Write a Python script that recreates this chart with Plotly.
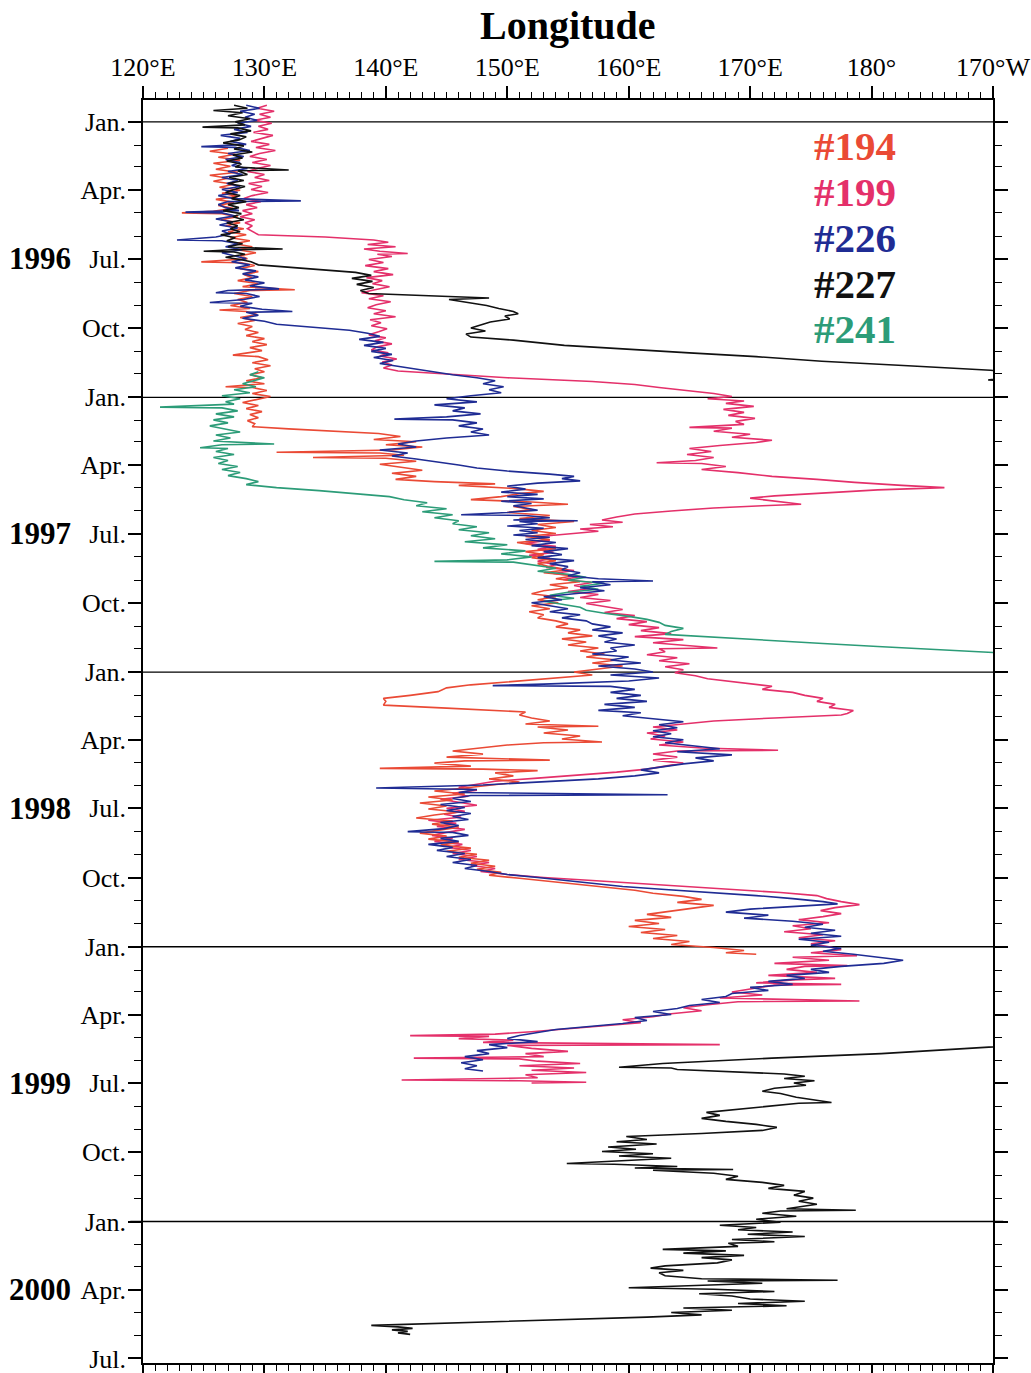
import plotly.graph_objects as go
import pandas as pd

# ---------------- data (day offset from 1996-01-01, longitude in degrees east; >180 = west of dateline) ----
track_194 = [(35,127.0),(39,125.5),(43,127.6),(47,126.2),(51,128.0),(55,125.8),(59,127.2),(63,126.0),(67,127.8),(71,125.5),(75,127.0),(79,125.8),(83,127.5),(87,126.3),(91,128.0),(95,126.5),(99,127.8),(103,126.0),(107,127.5),(111,126.2),(115,127.4),(119,125.8),(121,123.2),(122,126.5),(126,127.8),(130,126.4),(134,128.0),(138,126.8),(142,128.3),(146,127.0),(150,128.5),(154,127.2),(158,128.8),(162,127.5),(166,129.0),(170,127.8),(174,129.3),(178,128.0),(182,128.6),(186,124.8),(187,128.0),(191,129.2),(195,128.0),(199,129.5),(203,128.3),(207,129.0),(211,127.8),(215,129.5),(219,128.2),(223,132.5),(224,128.8),(228,127.5),(232,129.0),(236,127.8),(240,128.6),(244,127.2),(248,128.8),(250,126.3),(252,128.5),(256,129.4),(260,128.0),(264,129.2),(268,127.8),(272,129.0),(276,128.4),(280,129.5),(284,128.5),(288,130.0),(292,129.0),(296,130.2),(300,128.8),(304,129.8),(308,128.2),(310,127.4),(312,129.5),(316,130.3),(320,129.0),(324,130.5),(328,129.2),(332,130.0),(336,128.8),(340,129.8),(344,128.5),(348,130.0),(352,126.8),(353,129.0),(357,130.2),(361,129.0),(365,130.5),(369,129.2),(373,128.2),(377,129.5),(381,128.5),(385,129.8),(389,128.8),(393,129.5),(397,128.6),(401,129.2),(405,129.0),(408,132.0),(411,136.0),(414,139.4),(418,141.2),(422,139.0),(425,142.5),(429,140.0),(432,143.0),(436,140.5),(439,131.0),(440,139.5),(443,141.5),(446,134.0),(447,140.0),(451,142.5),(455,139.5),(459,141.5),(463,143.0),(467,140.5),(471,142.5),(475,140.8),(478,144.0),(481,149.0),(483,146.0),(487,150.5),(491,153.0),(494,151.0),(498,149.5),(502,147.0),(505,152.0),(508,155.0),(511,150.5),(515,152.0),(519,150.0),(523,153.5),(527,151.0),(531,155.5),(535,152.5),(539,154.0),(543,152.0),(547,154.0),(551,151.5),(555,153.5),(559,150.8),(563,152.5),(567,154.0),(571,151.5),(575,153.0),(579,152.0),(583,154.0),(587,152.5),(591,153.5),(595,155.0),(599,153.0),(603,155.5),(607,154.0),(611,156.0),(615,153.5),(619,155.0),(623,153.0),(627,152.0),(631,154.0),(635,152.5),(639,154.2),(643,152.0),(647,153.5),(651,151.8),(655,153.0),(659,152.5),(663,154.0),(667,155.0),(671,154.0),(675,156.0),(679,155.0),(683,157.0),(687,154.5),(691,156.5),(695,155.0),(699,157.5),(703,156.0),(707,158.0),(711,156.5),(715,159.0),(719,157.0),(723,159.5),(727,157.5),(731,155.5),(735,157.0),(739,154.0),(744,150.0),(748,147.0),(752,145.0),(757,144.3),(762,142.0),(766,139.8),(770,140.0),(775,139.8),(779,145.0),(784,151.5),(788,151.0),(792,152.0),(796,153.5),(800,151.5),(803,157.5),(804,152.5),(808,155.0),(812,153.0),(816,156.0),(820,154.5),(824,157.8),(825,153.0),(828,150.0),(832,147.5),(836,145.5),(840,148.0),(844,145.0),(848,153.5),(849,146.5),(852,144.0),(856,147.0),(859,139.5),(860,148.0),(862,152.5),(865,149.0),(869,150.5),(873,148.5),(877,151.0),(881,149.0),(885,146.5),(889,144.0),(893,146.5),(897,143.5),(901,145.5),(905,142.8),(909,145.0),(913,143.5),(917,146.0),(921,144.0),(925,142.5),(929,145.5),(933,143.8),(937,146.0),(941,144.5),(945,142.8),(949,145.0),(953,143.5),(957,146.0),(961,144.5),(965,147.0),(969,145.0),(973,147.5),(977,146.0),(981,148.5),(985,147.0),(989,149.0),(993,147.5),(997,149.5),(1001,148.5),(1005,151.0),(1009,153.5),(1013,155.5),(1017,158.0),(1021,160.5),(1025,162.0),(1029,164.5),(1033,166.0),(1037,164.0),(1041,167.0),(1045,165.0),(1049,163.0),(1053,161.5),(1057,163.5),(1061,160.5),(1065,162.5),(1069,160.0),(1073,163.0),(1077,161.0),(1081,164.0),(1085,162.0),(1089,165.0),(1093,163.5),(1097,167.0),(1101,169.5),(1104,168.0),(1106,170.5)]

track_199 = [(-22,130.2),(-18,129.4),(-14,130.8),(-10,129.6),(-6,130.5),(-2,129.2),(2,130.6),(6,129.5),(10,130.3),(14,129.1),(18,130.7),(22,129.8),(26,128.9),(30,130.4),(34,129.3),(38,130.9),(42,129.6),(46,128.8),(50,130.2),(54,129.0),(58,130.5),(62,129.4),(66,128.6),(70,130.0),(74,129.2),(78,130.4),(82,128.7),(86,129.8),(90,128.9),(94,130.3),(98,129.0),(102,128.3),(106,129.7),(110,128.5),(114,129.4),(118,128.2),(122,129.0),(126,128.0),(130,129.2),(134,128.4),(138,129.0),(142,128.6),(146,129.0),(150,129.5),(153,135.0),(157,139.0),(160,140.2),(163,138.5),(166,140.8),(169,138.2),(172,139.5),(175,141.8),(176,139.3),(179,140.5),(183,138.6),(187,139.8),(191,138.3),(195,140.2),(199,139.0),(203,140.6),(207,138.4),(211,139.7),(215,138.9),(219,140.3),(223,139.1),(227,138.0),(231,139.8),(235,138.6),(239,140.4),(243,139.2),(247,138.5),(251,140.0),(255,139.0),(259,140.8),(263,138.7),(267,139.6),(271,138.8),(275,140.1),(279,139.4),(283,138.6),(287,140.0),(291,139.1),(295,140.5),(299,139.3),(303,138.8),(307,140.2),(311,139.5),(315,140.9),(319,139.7),(323,140.5),(327,139.8),(331,141.0),(336,146.0),(340,150.0),(345,157.0),(349,160.5),(353,162.5),(357,164.8),(361,167.0),(365,168.5),(368,166.5),(371,169.5),(374,168.0),(378,170.3),(382,167.8),(386,169.5),(390,168.2),(394,170.4),(398,168.8),(402,169.5),(406,165.0),(407,168.5),(411,167.0),(415,170.0),(419,168.5),(423,171.8),(426,170.5),(430,167.5),(434,165.0),(438,166.8),(442,164.8),(446,167.0),(450,165.5),(453,162.3),(454,166.0),(458,168.0),(462,166.0),(466,169.0),(471,171.8),(475,175.5),(479,178.6),(483,182.5),(486,186.0),(489,180.5),(493,176.5),(497,172.0),(500,170.0),(504,172.0),(508,174.2),(510,171.0),(513,167.0),(517,163.5),(521,160.5),(525,159.0),(529,157.8),(532,159.5),(535,156.8),(538,158.7),(541,156.0),(544,157.5),(548,154.5),(552,152.0),(556,153.5),(560,151.5),(564,154.0),(568,152.5),(572,153.8),(576,151.8),(580,153.5),(584,152.5),(588,154.0),(592,153.2),(596,155.5),(600,153.8),(604,156.0),(608,154.6),(612,157.0),(616,155.5),(620,156.8),(624,155.0),(628,157.5),(632,156.0),(636,158.5),(640,156.5),(644,158.0),(648,159.5),(652,158.0),(656,160.5),(660,159.0),(664,161.5),(668,160.0),(672,162.5),(676,161.0),(680,163.5),(684,160.5),(688,164.5),(692,162.0),(696,165.5),(699,167.3),(700,162.5),(704,163.0),(708,161.5),(712,164.0),(716,162.5),(720,165.0),(724,163.0),(728,164.5),(732,163.8),(736,165.5),(740,166.5),(746,169.5),(750,171.8),(754,171.0),(758,173.5),(762,174.5),(766,176.0),(770,175.5),(774,177.0),(778,176.5),(782,178.5),(786,178.0),(788,177.5),(792,172.0),(796,167.0),(800,164.5),(804,162.0),(808,164.0),(812,161.5),(816,163.0),(820,161.8),(824,164.5),(828,162.5),(832,166.0),(835,172.3),(836,164.0),(840,162.0),(844,164.0),(848,162.0),(852,164.5),(856,163.0),(860,161.5),(864,159.0),(868,156.0),(872,152.5),(876,149.0),(880,147.5),(884,146.0),(888,147.5),(892,145.5),(896,146.8),(900,144.5),(904,146.0),(908,147.5),(912,145.0),(916,146.5),(920,144.8),(924,146.2),(928,143.5),(932,145.8),(936,144.2),(940,146.5),(944,145.0),(948,143.8),(952,145.5),(956,144.0),(960,146.3),(964,145.2),(968,147.0),(972,145.5),(976,147.5),(980,146.0),(984,148.5),(988,147.0),(992,149.0),(996,147.8),(1000,150.0),(1004,153.0),(1008,157.0),(1012,161.0),(1016,165.0),(1020,169.0),(1024,172.5),(1028,175.5),(1032,176.3),(1036,177.5),(1040,179.0),(1044,177.0),(1048,175.8),(1052,177.5),(1056,176.0),(1060,174.0),(1064,176.5),(1068,173.5),(1072,175.0),(1076,172.8),(1080,176.0),(1084,174.0),(1088,177.0),(1092,175.0),(1096,176.5),(1100,177.5),(1104,175.0),(1108,178.8),(1110,173.5),(1114,176.5),(1118,172.0),(1121,178.0),(1122,174.5),(1126,173.0),(1130,175.5),(1134,171.5),(1138,177.0),(1140,173.5),(1144,170.5),(1146,177.5),(1147,172.0),(1152,170.0),(1156,168.5),(1160,171.0),(1164,167.5),(1168,179.0),(1169,169.0),(1173,166.5),(1177,164.5),(1181,166.0),(1185,163.5),(1189,162.0),(1193,159.5),(1197,161.0),(1201,158.0),(1205,155.5),(1209,152.0),(1212,149.0),(1214,142.0),(1215,148.5),(1218,146.0),(1220,150.5),(1223,148.0),(1226,167.5),(1227,150.0),(1231,152.0),(1235,155.0),(1238,151.5),(1242,153.0),(1244,142.3),(1245,151.0),(1248,152.5),(1251,156.0),(1254,151.0),(1257,155.5),(1260,152.0),(1263,156.5),(1266,151.5),(1270,152.5),(1273,141.3),(1274,151.0),(1276,156.5),(1277,152.0)]

track_226 = [(-22,128.5),(-18,129.6),(-14,128.0),(-10,129.2),(-6,128.4),(-2,129.4),(2,127.8),(6,128.9),(10,127.5),(14,128.6),(18,126.4),(22,128.0),(26,127.2),(30,128.5),(33,124.8),(34,127.6),(38,128.8),(42,127.0),(46,128.3),(50,126.8),(54,128.0),(58,127.3),(62,128.6),(66,127.0),(70,128.2),(74,126.5),(78,127.8),(82,126.9),(86,128.0),(90,126.5),(94,127.8),(98,126.2),(102,127.5),(105,133.0),(106,127.0),(110,126.2),(114,126.8),(118,127.9),(120,123.5),(121,126.5),(125,127.6),(129,126.0),(133,127.4),(137,126.3),(141,127.8),(145,126.5),(149,127.2),(153,126.0),(157,122.8),(158,126.5),(162,127.8),(166,126.8),(170,128.2),(174,126.5),(178,127.5),(182,128.5),(186,127.3),(190,128.8),(194,127.6),(198,129.3),(202,128.2),(206,129.5),(210,128.4),(214,130.0),(218,128.8),(222,131.2),(224,127.0),(227,126.0),(228,128.5),(232,129.6),(236,128.3),(240,125.5),(241,129.0),(245,128.0),(249,129.8),(252,132.3),(253,128.5),(257,129.5),(261,128.2),(265,130.0),(269,131.0),(273,134.0),(277,137.0),(281,138.5),(285,139.5),(289,137.8),(293,139.8),(297,138.2),(301,140.0),(305,138.8),(309,140.5),(313,139.0),(317,140.6),(321,139.5),(325,141.0),(329,142.5),(333,144.0),(336,145.5),(340,147.5),(344,149.0),(348,148.0),(352,149.7),(356,148.5),(360,149.5),(364,147.0),(368,145.0),(372,147.5),(376,144.0),(380,146.5),(384,145.5),(388,147.8),(392,145.0),(395,140.7),(396,145.5),(400,147.5),(404,146.0),(408,148.0),(412,147.0),(416,148.5),(420,145.0),(424,142.5),(428,141.0),(432,142.5),(436,139.5),(440,141.8),(444,140.5),(448,142.5),(452,144.5),(456,146.0),(460,147.5),(464,150.0),(468,153.5),(471,155.5),(474,154.5),(477,156.0),(480,152.5),(484,150.0),(488,151.5),(492,149.5),(495,152.5),(498,150.0),(501,153.0),(504,149.5),(507,152.0),(510,150.5),(516,152.5),(519,150.0),(522,146.2),(523,151.5),(526,153.5),(529,150.5),(530,155.8),(531,151.0),(534,152.5),(537,150.0),(540,153.0),(543,151.0),(546,152.5),(549,150.5),(552,153.5),(555,151.5),(559,154.0),(563,152.0),(567,155.0),(571,153.0),(575,154.5),(579,152.5),(583,155.5),(587,153.5),(591,155.0),(595,154.5),(599,156.0),(603,155.0),(607,157.5),(610,162.0),(611,157.0),(615,158.5),(619,156.0),(623,158.0),(627,155.5),(631,153.0),(635,154.5),(639,152.0),(643,153.5),(647,155.0),(651,153.5),(655,156.0),(659,154.5),(663,156.5),(667,157.0),(671,158.5),(675,157.0),(679,159.5),(683,157.5),(687,159.0),(691,158.0),(695,160.5),(699,158.5),(703,159.0),(707,157.0),(711,160.0),(715,158.5),(719,161.0),(723,157.5),(727,160.5),(731,162.0),(735,158.5),(739,162.5),(743,160.0),(747,153.0),(749,148.8),(750,158.5),(754,160.5),(758,158.5),(762,161.0),(766,159.0),(770,161.5),(774,158.0),(778,160.5),(782,157.5),(785,161.0),(789,159.5),(793,162.0),(797,164.5),(801,162.5),(805,164.0),(809,162.0),(813,163.5),(817,162.0),(821,164.5),(825,163.0),(829,165.0),(833,167.5),(837,164.0),(841,168.5),(845,165.5),(849,167.0),(853,164.5),(857,162.5),(861,161.0),(865,162.5),(869,160.5),(873,157.5),(877,153.0),(881,148.0),(885,139.2),(887,147.5),(891,146.0),(894,163.2),(895,147.0),(899,145.5),(903,147.0),(907,144.5),(911,146.5),(915,145.0),(919,147.0),(923,145.5),(927,146.8),(931,144.5),(935,146.0),(939,144.8),(943,141.8),(944,145.5),(948,146.8),(952,144.5),(956,146.0),(960,143.5),(964,145.5),(968,144.2),(972,146.5),(976,145.0),(980,147.0),(984,145.5),(988,147.5),(992,146.5),(996,148.5),(1000,150.0),(1004,152.5),(1008,155.0),(1012,157.5),(1016,159.5),(1020,163.0),(1024,167.0),(1028,170.5),(1032,173.5),(1036,176.0),(1039,177.2),(1042,174.0),(1046,170.0),(1050,168.0),(1054,171.5),(1058,169.5),(1062,173.5),(1066,176.0),(1070,174.5),(1074,177.0),(1078,175.0),(1082,177.5),(1086,174.0),(1090,176.5),(1094,175.0),(1098,177.5),(1102,176.0),(1106,178.5),(1110,180.5),(1114,182.6),(1118,181.0),(1122,177.5),(1126,175.0),(1130,176.5),(1134,173.0),(1138,174.5),(1142,171.5),(1146,173.5),(1150,170.0),(1154,171.5),(1158,168.5),(1162,168.0),(1166,166.0),(1170,167.5),(1174,165.0),(1178,164.0),(1182,162.0),(1186,163.5),(1190,160.5),(1194,161.5),(1198,159.5),(1202,157.0),(1206,154.0),(1210,152.5),(1214,151.0),(1218,150.0),(1222,152.5),(1226,148.5),(1230,150.0),(1234,147.5),(1238,148.5),(1242,146.5),(1246,148.0),(1250,146.2),(1254,147.5),(1258,146.5),(1261,148.0)]

track_227 = [(-22,127.5),(-18,128.6),(-15,125.8),(-12,128.2),(-8,127.0),(-4,128.8),(0,127.6),(4,128.4),(7,124.9),(8,127.8),(12,128.9),(16,127.2),(20,128.5),(24,127.9),(28,126.6),(32,128.3),(36,127.5),(40,129.0),(44,127.4),(48,128.2),(52,126.9),(56,128.1),(60,127.6),(64,132.0),(65,127.8),(70,128.6),(74,127.1),(78,128.3),(82,127.0),(86,128.4),(90,127.5),(94,126.8),(98,128.0),(102,127.3),(106,128.5),(110,127.0),(114,127.9),(118,126.6),(122,128.1),(126,127.4),(130,128.3),(134,126.9),(138,127.8),(142,127.2),(146,128.0),(150,126.4),(154,127.6),(158,126.9),(162,128.2),(166,127.0),(169,131.5),(170,127.3),(172,125.0),(173,127.5),(176,128.4),(180,126.8),(183,128.0),(186,128.9),(190,129.5),(196,134.5),(200,137.5),(204,138.8),(208,137.2),(212,138.9),(216,137.6),(220,139.0),(224,137.9),(228,138.6),(232,145.5),(234,148.5),(236,145.2),(240,146.8),(244,148.3),(248,149.3),(252,150.5),(255,150.9),(258,149.8),(262,150.2),(266,148.6),(270,147.8),(274,147.0),(278,148.2),(282,146.6),(286,147.0),(290,150.5),(297,154.7),(302,159.5),(307,165.0),(312,170.5),(318,175.9),(324,183.0),(330,189.8),(335,193.0),(343,189.6),(346,194.0),
             (800,None),
             (1226,193.0),(1229,190.0),(1233,185.3),(1238,180.8),(1244,171.8),(1251,162.8),(1256,159.2),(1257,163.5),(1259,164.0),(1262,168.5),(1265,172.8),(1268,174.5),(1271,172.8),(1274,175.3),(1277,173.6),(1280,174.6),(1284,172.0),(1288,171.0),(1291,172.5),(1296,173.8),(1300,175.6),(1303,176.7),(1304,174.0),(1308,171.5),(1312,168.6),(1316,166.4),(1320,167.5),(1324,166.0),(1328,168.0),(1332,170.5),(1336,172.2),(1340,171.0),(1344,166.0),(1348,159.8),(1352,161.5),(1355,159.0),(1358,162.3),(1362,158.3),(1365,160.6),(1368,157.8),(1371,162.0),(1374,159.2),(1377,163.5),(1380,160.0),(1384,154.9),(1385,158.8),(1388,164.0),(1390,160.5),(1392,168.6),(1393,162.0),(1397,167.0),(1401,169.0),(1405,168.0),(1409,171.0),(1413,172.8),(1417,171.5),(1421,174.5),(1426,173.6),(1430,175.2),(1434,174.0),(1438,175.5),(1444,173.0),(1446,178.7),(1447,172.5),(1450,171.0),(1454,173.8),(1458,170.5),(1462,172.5),(1466,167.5),(1469,170.5),(1472,169.0),(1475,173.5),(1478,169.8),(1481,174.5),(1485,168.5),(1488,172.0),(1490,168.2),(1494,169.0),(1498,162.8),(1500,168.0),(1503,164.5),(1506,169.5),(1509,166.0),(1512,168.5),(1516,167.3),(1520,163.0),(1523,161.8),(1526,164.5),(1529,162.5),(1533,163.0),(1537,166.0),(1539,177.2),(1540,166.5),(1543,171.0),(1546,165.5),(1549,160.0),(1551,167.0),(1554,172.0),(1557,165.8),(1560,168.5),(1564,170.0),(1567,174.5),(1570,169.0),(1573,173.0),(1576,164.5),(1579,168.5),(1582,163.5),(1585,166.0),(1588,161.5),(1593,151.0),(1599,138.8),(1601,141.0),(1603,142.2),(1605,140.5),(1607,141.8),(1609,141.0),(1611,142.0)]

track_241 = [(332,129.5),(336,128.8),(340,130.0),(344,129.0),(348,128.2),(352,129.3),(356,127.5),(360,128.8),(364,126.5),(368,128.0),(372,126.8),(375,127.5),(379,121.4),(380,126.5),(384,127.8),(388,126.0),(392,127.5),(396,125.8),(400,127.0),(404,125.5),(408,126.8),(412,128.0),(416,126.0),(420,127.2),(424,125.8),(428,130.8),(429,126.5),(433,124.7),(434,127.0),(438,126.0),(442,127.5),(446,125.8),(450,127.0),(454,126.2),(458,127.8),(462,126.5),(466,128.0),(470,127.0),(474,128.5),(478,129.5),(482,128.5),(486,131.0),(490,134.5),(494,137.5),(498,140.3),(502,141.5),(506,143.4),(510,142.5),(514,145.0),(518,143.0),(522,145.5),(526,144.0),(530,146.0),(534,145.5),(538,147.5),(542,146.0),(546,148.5),(550,147.0),(554,149.0),(558,146.5),(562,150.0),(566,148.0),(570,151.5),(574,149.5),(578,152.0),(582,150.0),(584,144.0),(585,150.5),(589,152.5),(593,154.0),(597,152.5),(601,155.0),(605,156.5),(609,155.0),(613,158.0),(617,156.0),(621,157.5),(625,155.0),(629,153.5),(633,155.5),(637,153.0),(641,154.5),(645,156.0),(649,156.5),(653,158.0),(657,160.0),(661,161.5),(665,162.5),(669,163.0),(673,164.5),(677,163.5),(681,163.0),(685,167.0),(689,171.5),(693,176.0),(697,180.5),(701,185.5),(705,190.0)]

float_names = ["#194", "#199", "#226", "#227", "#241"]
float_colors = ["#EA4A35", "#E4306A", "#1F2C94", "#111111", "#2C9C78"]

lon_tickvals = [120, 130, 140, 150, 160, 170, 180, 190]
lon_ticktext = ["120°E", "130°E", "140°E", "150°E", "160°E", "170°E", "180°", "170°W"]

month_tickvals = pd.date_range("1996-01-01", "2000-07-01", freq="3MS")
month_names = ["Jan.", "Apr.", "Jul.", "Oct."]
month_ticktext = [month_names[(d.month - 1) // 3] for d in month_tickvals]

year_labels = ["1996", "1997", "1998", "1999", "2000"]
year_label_dates = ["1996-07-01", "1997-07-01", "1998-07-01", "1999-07-01", "2000-04-01"]
jan_lines = ["1996-01-01", "1997-01-01", "1998-01-01", "1999-01-01", "2000-01-01"]

BASE = pd.Timestamp("1996-01-01")


def unpack(track):
    dates = [BASE + pd.Timedelta(days=d) for d, _ in track]
    lons = [v for _, v in track]
    return dates, lons


tracks = {"#194": track_194, "#199": track_199, "#226": track_226, "#227": track_227, "#241": track_241}
colors = dict(zip(float_names, float_colors))

fig = go.Figure()
for name in ["#199", "#194", "#241", "#226", "#227"]:
    d, l = unpack(tracks[name])
    fig.add_trace(go.Scatter(x=l, y=d, mode="lines", name=name, connectgaps=False,
                             line=dict(color=colors[name], width=1.6), showlegend=False))

SERIF = "Liberation Serif"

shapes = []
for j in jan_lines:
    shapes.append(dict(type="line", xref="paper", yref="y", x0=-0.015, x1=1.012, y0=j, y1=j,
                       line=dict(color="black", width=1.3), layer="below"))

annotations = []
for lab, dt in zip(year_labels, year_label_dates):
    annotations.append(dict(text=f"<b>{lab}</b>", xref="paper", yref="y", x=-0.082, y=dt,
                            xanchor="right", yanchor="middle", showarrow=False,
                            font=dict(family=SERIF, size=31, color="black")))

legend_y_px = [146, 192, 238, 284, 329]
for name, ypx in zip(float_names, legend_y_px):
    annotations.append(dict(text=f"<b>{name}</b>", xref="paper", yref="paper",
                            x=(812 - 143) / 850, y=1 - (ypx - 100) / 1263,
                            xanchor="left", yanchor="middle", showarrow=False,
                            font=dict(family=SERIF, size=41, color=colors[name])))

annotations.append(dict(text="<b>Longitude</b>", xref="paper", yref="paper", x=0.5,
                        y=1 + (100 - 25) / 1263, xanchor="center", yanchor="middle",
                        showarrow=False, font=dict(family=SERIF, size=40, color="black")))

fig.update_layout(
    width=1031, height=1373,
    margin=dict(l=143, r=38, t=100, b=10, autoexpand=False),
    paper_bgcolor="white", plot_bgcolor="white",
    font=dict(family=SERIF, color="black"),
    shapes=shapes, annotations=annotations,
    xaxis=dict(range=[120, 190], side="top", tickmode="array", tickvals=lon_tickvals,
               ticktext=lon_ticktext, ticks="outside", ticklen=12, tickwidth=1.5,
               tickcolor="black", showline=True, linecolor="black", linewidth=1.5,
               mirror="allticks", showgrid=False, zeroline=False, automargin=False,
               ticklabeloverflow="allow",
               tickfont=dict(family=SERIF, size=26, color="black"),
               minor=dict(dtick=1, tick0=120, ticks="outside", ticklen=6, tickwidth=1.2,
                          tickcolor="black", showgrid=False)),
    yaxis=dict(type="date", range=["2000-07-07", "1995-12-03"], tickmode="array",
               tickvals=month_tickvals, ticktext=month_ticktext, ticks="outside",
               ticklen=13, tickwidth=1.5, tickcolor="black", showline=True,
               linecolor="black", linewidth=1.5, mirror="allticks", showgrid=False,
               zeroline=False, automargin=False, ticklabeloverflow="allow",
               ticklabelstandoff=-3,
               tickfont=dict(family=SERIF, size=26, color="black"),
               minor=dict(dtick="M1", tick0="1996-01-01", ticks="outside", ticklen=7,
                          tickwidth=1.2, tickcolor="black", showgrid=False)),
)

fig.write_html("out.html")
